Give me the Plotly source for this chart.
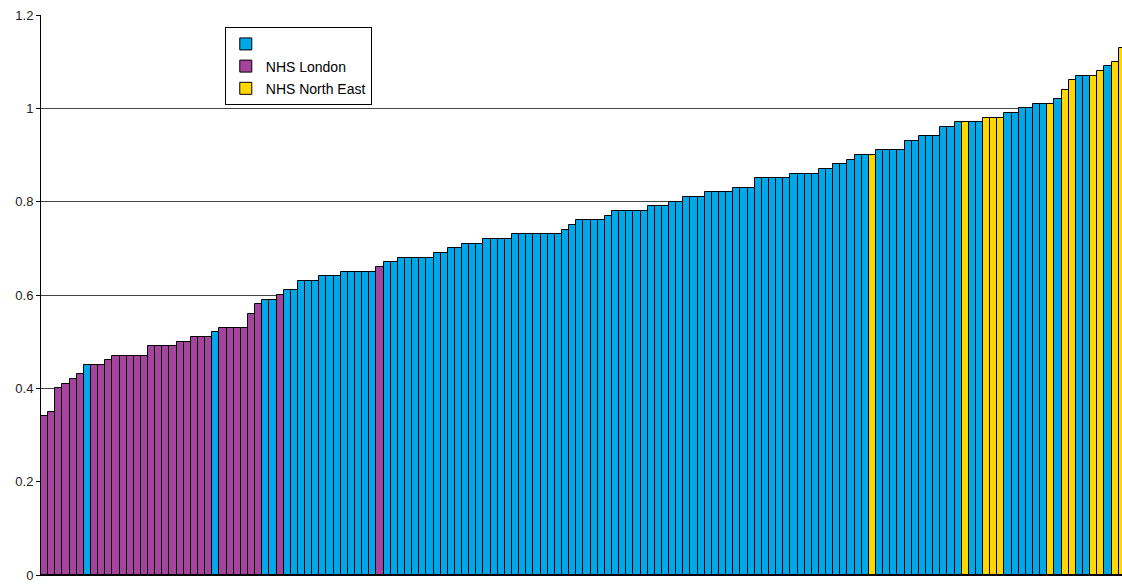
import plotly.graph_objects as go

# Sorted values, one bar per organisation
values = [
    0.34, 0.35, 0.40, 0.41, 0.42, 0.43, 0.45, 0.45, 0.45, 0.46,
    0.47, 0.47, 0.47, 0.47, 0.47, 0.49, 0.49, 0.49, 0.49, 0.50,
    0.50, 0.51, 0.51, 0.51, 0.52, 0.53, 0.53, 0.53, 0.53, 0.56,
    0.58, 0.59, 0.59, 0.60, 0.61, 0.61, 0.63, 0.63, 0.63, 0.64,
    0.64, 0.64, 0.65, 0.65, 0.65, 0.65, 0.65, 0.66, 0.67, 0.67,
    0.68, 0.68, 0.68, 0.68, 0.68, 0.69, 0.69, 0.70, 0.70, 0.71,
    0.71, 0.71, 0.72, 0.72, 0.72, 0.72, 0.73, 0.73, 0.73, 0.73,
    0.73, 0.73, 0.73, 0.74, 0.75, 0.76, 0.76, 0.76, 0.76, 0.77,
    0.78, 0.78, 0.78, 0.78, 0.78, 0.79, 0.79, 0.79, 0.80, 0.80,
    0.81, 0.81, 0.81, 0.82, 0.82, 0.82, 0.82, 0.83, 0.83, 0.83,
    0.85, 0.85, 0.85, 0.85, 0.85, 0.86, 0.86, 0.86, 0.86, 0.87,
    0.87, 0.88, 0.88, 0.89, 0.90, 0.90, 0.90, 0.91, 0.91, 0.91,
    0.91, 0.93, 0.93, 0.94, 0.94, 0.94, 0.96, 0.96, 0.97, 0.97,
    0.97, 0.97, 0.98, 0.98, 0.98, 0.99, 0.99, 1.00, 1.00, 1.01,
    1.01, 1.01, 1.02, 1.04, 1.06, 1.07, 1.07, 1.07, 1.08, 1.09,
    1.10, 1.13,
]

# Region code per bar: O = other, L = NHS London, N = NHS North East
regions = list(
    "LLLLLLOLLLLLLLLLLLLLLLLLOLLLLLLOOLOOOOOOOOOOOOOLOO"
    "OOOOOOOOOOOOOOOOOOOOOOOOOOOOOOOOOOOOOOOOOOOOOOOOOO"
    "OOOOOOOOOOOOOOOONOOOOOOOOOOOONOONNNOOOOOONONNOONNONN"
)

series = [
    ("O", "", "#00A8E8"),
    ("L", "NHS London", "#A4449C"),
    ("N", "NHS North East", "#FFD700"),
]

fig = go.Figure()
for code, label, colour in series:
    idx = [i for i, r in enumerate(regions) if r == code]
    fig.add_trace(go.Bar(
        x=idx,
        y=[values[i] for i in idx],
        name=label,
        width=1,
        marker=dict(color=colour, line=dict(color="black", width=1)),
        legendgroup=code,
    ))

fig.update_layout(
    width=1122, height=585,
    margin=dict(l=41, r=0, t=15, b=10),
    paper_bgcolor="white", plot_bgcolor="white",
    barmode="overlay", bargap=0,
    font=dict(family="Liberation Sans, Arial, sans-serif", size=13, color="black"),
    showlegend=True,
    legend=dict(
        x=0.170, y=0.978, xanchor="left", yanchor="top",
        bgcolor="white", bordercolor="black", borderwidth=1,
        traceorder="grouped", tracegroupgap=1,
        font=dict(size=14, color="black"),
        itemwidth=30,
    ),
    xaxis=dict(
        range=[-0.5, -0.5 + (1122 - 41) / 7.137],
        showticklabels=False, ticks="", showgrid=False,
        showline=True, linecolor="black", linewidth=1,
        zeroline=False, fixedrange=True,
    ),
    yaxis=dict(
        range=[0, 1.2], dtick=0.2, tickformat="~g",
        showgrid=True, gridcolor="#444444", gridwidth=1,
        showline=True, linecolor="black", linewidth=1,
        ticks="outside", ticklen=4, tickcolor="black",
        zeroline=False, tickfont=dict(size=13, color="#222222"),
    ),
)

fig.write_html("out.html")
